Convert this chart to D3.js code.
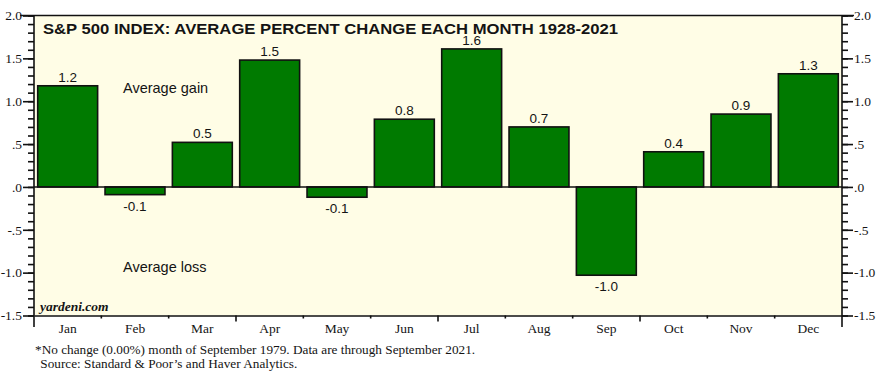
<!DOCTYPE html>
<html><head><meta charset="utf-8">
<script src="https://cdn.jsdelivr.net/npm/d3@7"></script>
<style>
html,body{margin:0;padding:0;background:#fff;}
svg{display:block;}
</style></head>
<body>
<svg id="chart" width="879" height="375"></svg>
<script>
const months = ["Jan","Feb","Mar","Apr","May","Jun","Jul","Aug","Sep","Oct","Nov","Dec"];
const avgChange = [1.18,-0.09,0.52,1.48,-0.12,0.79,1.61,0.70,-1.03,0.41,0.85,1.32];
const valueLabels = ["1.2","-0.1","0.5","1.5","-0.1","0.8","1.6","0.7","-1.0","0.4","0.9","1.3"];
const yMajorTicks = [2.0,1.5,1.0,0.5,0.0,-0.5,-1.0,-1.5];
const yTickLabels = ["2.0","1.5","1.0",".5",".0","-.5","-1.0","-1.5"];
const yMinorTicks = d3.range(-15,21).map(d=>d/10);
const titleText = "S&P 500 INDEX: AVERAGE PERCENT CHANGE EACH MONTH 1928-2021";
const footnotes = ["*No change (0.00%) month of September 1979. Data are through September 2021.",
                   " Source: Standard & Poor\u2019s and Haver Analytics."];

const svg = d3.select("#chart");
const L = 34, R = 842, T = 15.5, B = 315.5;
const ink = "#141414";

const x = d3.scaleBand().domain(months).range([L,R]).paddingInner(0.11).paddingOuter(0.055);
const y = d3.scaleLinear().domain([-1.5,2]).range([B,T]);

// background
svg.append("rect").attr("x",L).attr("y",T).attr("width",R-L).attr("height",B-T).attr("fill","#FFFDE6");

// bars
svg.append("g").selectAll("rect").data(avgChange).join("rect")
  .attr("x",(d,i)=>x(months[i]))
  .attr("width",x.bandwidth())
  .attr("y",d=>y(Math.max(0,d)))
  .attr("height",d=>Math.abs(y(d)-y(0)))
  .attr("fill","#007A00").attr("stroke","#111").attr("stroke-width",1.6);

// zero line
svg.append("line").attr("x1",L).attr("x2",R).attr("y1",y(0)).attr("y2",y(0)).attr("stroke","#111").attr("stroke-width",1.6);

// value labels
svg.append("g").selectAll("text").data(avgChange).join("text")
  .attr("x",(d,i)=>x(months[i])+x.bandwidth()/2)
  .attr("y",d=> d>=0 ? y(d)-4 : y(d)+16)
  .attr("text-anchor","middle")
  .attr("font-family","Liberation Sans, Arial, sans-serif")
  .attr("font-size",13.5).attr("fill",ink)
  .text((d,i)=>valueLabels[i]);

// title (drawn over the Jul label, as in the reference)
svg.append("text").attr("x",43).attr("y",33.5)
  .attr("font-family","Liberation Sans, Arial, sans-serif").attr("font-weight","bold")
  .attr("font-size",15.2).attr("textLength",575).attr("lengthAdjust","spacingAndGlyphs")
  .attr("fill",ink).text(titleText);

// annotations
svg.append("text").attr("x",123).attr("y",93).attr("font-family","Liberation Sans, Arial, sans-serif")
  .attr("font-size",14.5).attr("fill",ink).text("Average gain");
svg.append("text").attr("x",123).attr("y",272).attr("font-family","Liberation Sans, Arial, sans-serif")
  .attr("font-size",14.5).attr("fill",ink).text("Average loss");
svg.append("text").attr("x",40).attr("y",311).attr("font-family","Liberation Serif, Times New Roman, serif")
  .attr("font-style","italic").attr("font-weight","bold")
  .attr("font-size",13.5).attr("fill",ink).text("yardeni.com");

// frame top
svg.append("line").attr("x1",20).attr("x2",854).attr("y1",T).attr("y2",T).attr("stroke","#111").attr("stroke-width",1.5);

// y axes
function yAxis(g, side){
  const minor = side==="left" ? d3.axisLeft(y) : d3.axisRight(y);
  minor.tickValues(yMinorTicks).tickSize(6).tickFormat("");
  const major = side==="left" ? d3.axisLeft(y) : d3.axisRight(y);
  major.tickValues(yMajorTicks).tickSize(11).tickPadding(1).tickFormat((d,i)=>yTickLabels[i]);
  const gm = g.append("g").call(minor);
  const gM = g.append("g").call(major);
  [gm,gM].forEach(a=>{ a.select(".domain").remove(); a.selectAll("line").attr("stroke","#111").attr("stroke-width",1.6); });
  gM.selectAll("text").attr("font-family","Liberation Serif, Times New Roman, serif").attr("font-size",13.5).attr("fill",ink);
  g.append("line").attr("x1",0).attr("x2",0).attr("y1",T).attr("y2",327).attr("stroke","#111").attr("stroke-width",1.6);
}
yAxis(svg.append("g").attr("transform",`translate(${L},0)`),"left");
yAxis(svg.append("g").attr("transform",`translate(${R},0)`),"right");

// x axis
const xAxis = d3.axisBottom(x).tickSize(0).tickPadding(8);
const gx = svg.append("g").attr("transform",`translate(0,${B})`).call(xAxis);
gx.select(".domain").attr("stroke","#111").attr("stroke-width",1.6);
gx.selectAll("text").attr("font-family","Liberation Serif, Times New Roman, serif").attr("font-size",13.5).attr("fill",ink);
const boundaries = months.slice(1).map((m,i)=>({pos:x(m)-x.step()*x.paddingInner()/2, q:(i+1)%3===0}));
gx.selectAll(".bt").data(boundaries).join("line").attr("class","bt")
  .attr("x1",d=>d.pos).attr("x2",d=>d.pos).attr("y1",0).attr("y2",d=>d.q?6:3)
  .attr("stroke","#111").attr("stroke-width",1.6);

// footnotes
svg.append("text").attr("x",35).attr("y",354).attr("font-family","Liberation Serif, Times New Roman, serif")
  .attr("font-size",13.25).attr("fill",ink).style("white-space","pre").text(footnotes[0]);
svg.append("text").attr("x",37).attr("y",368).attr("font-family","Liberation Serif, Times New Roman, serif")
  .attr("font-size",13.25).attr("fill",ink).style("white-space","pre").text(footnotes[1]);
</script>
</body></html>
